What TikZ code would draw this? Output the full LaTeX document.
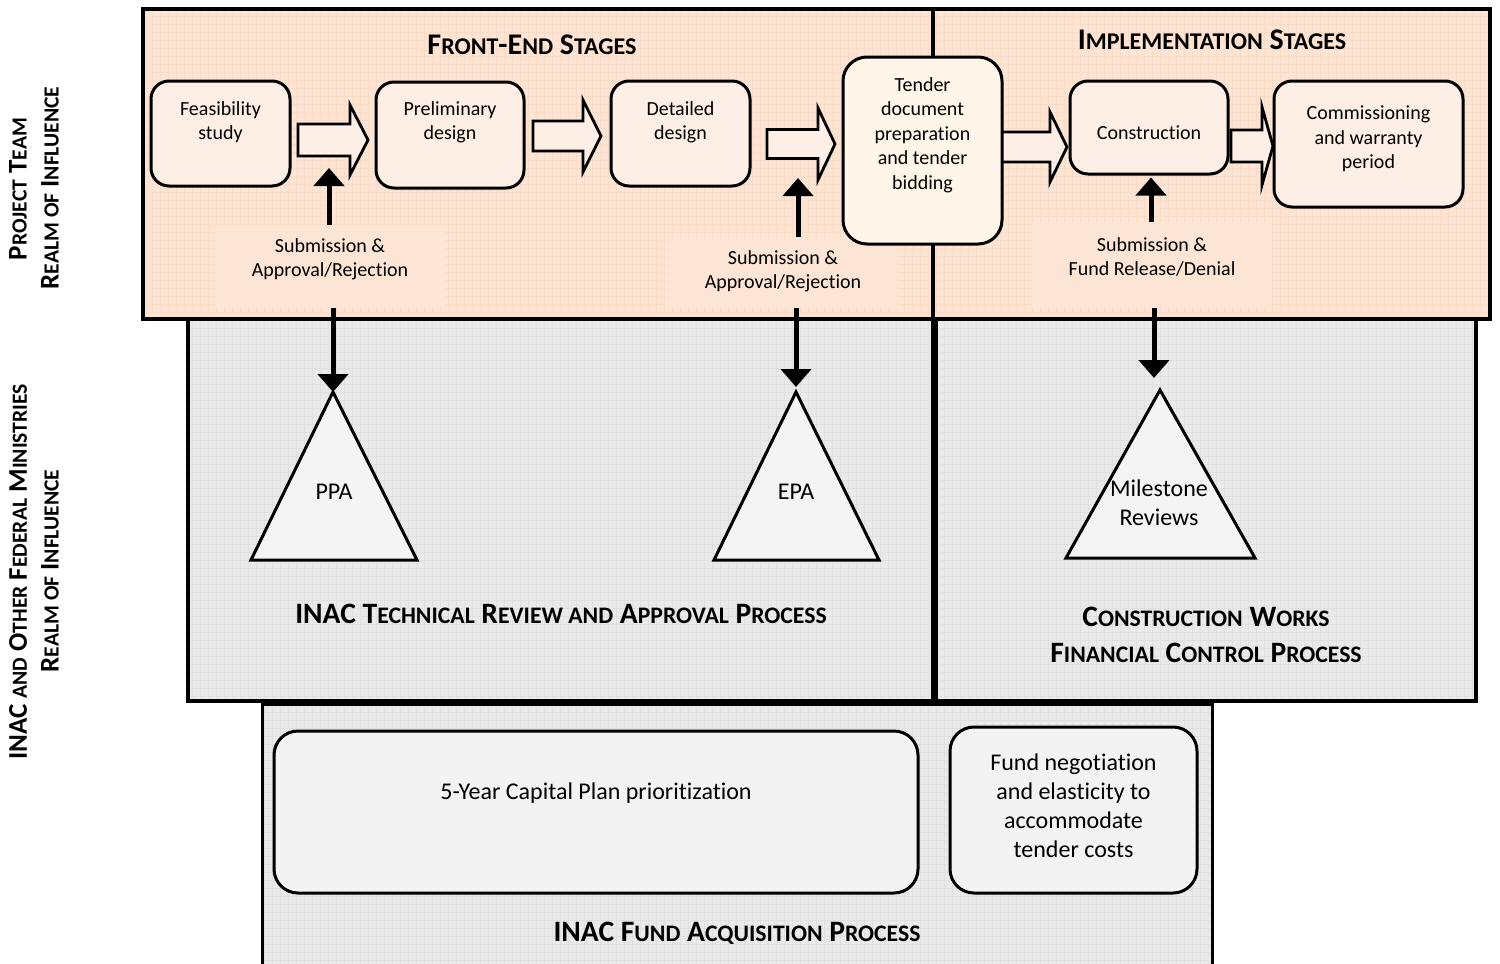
\documentclass[tikz,border=0pt]{standalone}
\usepackage{fontspec}
\setmainfont{Carlito}[Ligatures=NoCommon]
\usetikzlibrary{arrows.meta}

\definecolor{peachbg}{RGB}{252,229,213}
\definecolor{peachgrid}{RGB}{250,220,199}
\definecolor{peachnode}{RGB}{253,239,229}
\definecolor{tenderfill}{RGB}{255,245,232}
\definecolor{graybg}{RGB}{234,234,234}
\definecolor{graygrid}{RGB}{224,224,224}
\definecolor{trifill}{RGB}{244,244,244}
\definecolor{bottomnode}{RGB}{243,243,243}
\definecolor{arrowfill}{RGB}{253,239,229}

\newcommand\sm[1]{{\edef\smsz{\the\dimexpr 0.8\fontdimen6\font\relax}\fontsize{\smsz}{\smsz}\selectfont #1}}
\newcommand\barr[6]{%
  \draw[barrow] (#1,#4-#5) -- (#2,#4-#5) -- (#2,#4-#6) -- (#3,#4) -- (#2,#4+#6) -- (#2,#4+#5) -- (#1,#4+#5) -- cycle;}

\tikzset{
  region/.style={draw=black, line width=2pt},
  pgrid/.style={draw=peachgrid, line width=0.25pt, step=4pt},
  ggrid/.style={draw=graygrid, line width=0.25pt, step=4pt},
  stagebox/.style={draw, line width=1.5pt, rounded corners=9pt, fill=peachnode},
  stxt/.style={font=\fontsize{10}{12.2}\selectfont, align=center, inner sep=0pt},
  bigtxt/.style={font=\fontsize{12}{14.5}\selectfont, align=center, inner sep=0pt},
  title/.style={font=\fontsize{15}{18}\selectfont\bfseries, align=center, inner sep=0pt},
  sidetitle/.style={font=\fontsize{13.5}{18}\selectfont\bfseries, align=center, inner sep=0pt},
  btitle/.style={font=\fontsize{14.8}{18}\selectfont\bfseries, align=center, inner sep=0pt},
  lblbox/.style={fill=peachbg, inner sep=0pt},
  flow/.style={line width=2.5pt, -{Triangle[width=15pt,length=9pt]}},
  barrow/.style={draw, line width=1.4pt, fill=arrowfill, miter limit=10},
  tri/.style={draw, line width=1.5pt, fill=trifill, miter limit=10},
  botbox/.style={draw, line width=1.5pt, rounded corners=12pt, fill=bottomnode},
}

\begin{document}
\begin{tikzpicture}[x=0.5pt,y=-0.5pt]
\useasboundingbox (0,0) rectangle (1500,964);
\clip (0,0) rectangle (1500,964);

% ---------- bottom region ----------
\fill[graybg] (262,704) rectangle (1212,980);
\draw[ggrid] (262,704) grid (1212,980);
\draw[line width=1.5pt] (262,704) rectangle (1212,980);

% ---------- middle regions ----------
\fill[graybg] (188,319) rectangle (933,701);
\draw[ggrid] (188,319) grid (933,701);
\draw[region] (188,319) rectangle (933,701);
\fill[graybg] (936,319) rectangle (1476,701);
\draw[ggrid] (936,319) grid (1476,701);
\draw[region] (936,319) rectangle (1476,701);

% ---------- top regions ----------
\fill[peachbg] (143,9) rectangle (1490,319);
\draw[pgrid] (143,9) grid (1490,319);
\draw[region] (143,9) rectangle (933,319);
\draw[region] (933,9) rectangle (1490,319);

% ---------- left side labels ----------
\node[sidetitle, rotate=90] (pt1) at (18,189) {P\sm{ROJECT} T\sm{EAM}};
\node[sidetitle, rotate=90] (pt2) at (50,188) {R\sm{EALM OF} I\sm{NFLUENCE}};
\node[sidetitle, rotate=90] (in1) at (18,572) {INAC \sm{AND} O\sm{THER} F\sm{EDERAL} M\sm{INISTRIES}};
\node[sidetitle, rotate=90] (in2) at (50,571) {R\sm{EALM OF} I\sm{NFLUENCE}};

% ---------- titles ----------
\node[title] (fe) at (532,45) {F\sm{RONT}-E\sm{ND} S\sm{TAGES}};
\node[title] (im) at (1212,40) {I\sm{MPLEMENTATION} S\sm{TAGES}};

% ---------- submission labels ----------
\node[lblbox, minimum width=115pt, minimum height=41.5pt,
  label={[stxt,yshift=3.5pt]center:{Submission \&\\Approval/Rejection}}] (lbl1) at (330,266.5) {};
\node[lblbox, minimum width=115pt, minimum height=35.5pt,
  label={[stxt,yshift=0.5pt]center:{Submission \&\\Approval/Rejection}}] (lbl2) at (783,272.5) {};
\node[lblbox, minimum width=120pt, minimum height=43pt,
  label={[stxt,yshift=4pt]center:{Submission \&\\Fund Release/Denial}}] (lbl3) at (1152,265) {};

% ---------- block arrows ----------
\barr{298}{350}{368}{140}{16}{35}
\barr{533}{583}{601}{136}{15}{36}
\barr{767}{818}{835}{144}{14.5}{36}
\barr{995}{1050}{1067}{147}{15}{35}
\barr{1231}{1262}{1273}{146}{16}{39}
\coordinate (a1) at (329,168);
\coordinate (a3) at (798,178);

% ---------- stage nodes ----------
\node[stagebox, minimum width=69.5pt, minimum height=52.5pt,
  label={[stxt,yshift=5.75pt]center:{Feasibility\\study}}] (feas) at (220.5,133.5) {};
\node[stagebox, minimum width=74pt, minimum height=53pt,
  label={[stxt,yshift=6.25pt]center:{Preliminary\\design}}] (prel) at (450,135) {};
\node[stagebox, minimum width=69.5pt, minimum height=52.5pt,
  label={[stxt,yshift=5.75pt]center:{Detailed\\design}}] (det) at (680.5,133.5) {};
\node[stagebox, rounded corners=12pt, fill=tenderfill, minimum width=79.5pt, minimum height=93.5pt,
  label={[stxt,yshift=7.75pt]center:{Tender\\document\\preparation\\and tender\\bidding}}] (tender) at (922.5,150.5) {};
\node[stagebox, minimum width=79pt, minimum height=46.5pt,
  label={[stxt,yshift=-2.5pt]center:{Construction}}] (constr) at (1149,127.5) {};
\node[stagebox, minimum width=94.5pt, minimum height=63pt,
  label={[stxt,yshift=2.5pt]center:{Commissioning\\and warranty\\period}}] (comm) at (1368.5,144) {};

% ---------- triangles ----------
\coordinate (ppatop) at (333,392);
\coordinate (epatop) at (796,392);
\coordinate (mstop) at (1160,390);
\draw[tri] (251,560) -- (ppatop) -- (417,560) -- cycle;
\draw[tri] (714,560) -- (epatop) -- (879,560) -- cycle;
\draw[tri] (1066,558) -- (mstop) -- (1255,558) -- cycle;
\node[bigtxt] (ppa) at (334,492) {PPA};
\node[bigtxt] (epa) at (796,492) {EPA};
\node[bigtxt] (ms) at (1159,503) {Milestone\\Reviews};

% ---------- middle titles ----------
\node[btitle] (tr) at (561,614) {INAC T\sm{ECHNICAL} R\sm{EVIEW AND} A\sm{PPROVAL} P\sm{ROCESS}};
\node[btitle] (cw) at (1206,635) {C\sm{ONSTRUCTION} W\sm{ORKS}\\F\sm{INANCIAL} C\sm{ONTROL} P\sm{ROCESS}};

% ---------- connectors ----------
\draw[flow] (lbl1.north -| a1) -- (a1);
\draw[flow] (lbl2.north -| a3) -- (a3);
\draw[flow, shorten >=1pt] (lbl3.north -| 1151,0) -- (constr.south -| 1151,0);
\draw[flow] (lbl1.south -| ppatop) -- (ppatop);
\draw[flow, shorten >=2.5pt] (lbl2.south -| epatop) -- (epatop);
\draw[flow, shorten >=6pt] (lbl3.south -| 1154,0) -- (mstop -| 1154,0);

% ---------- bottom nodes ----------
\node[botbox, minimum width=322pt, minimum height=81pt,
  label={[bigtxt,yshift=9.5pt]center:{5-Year Capital Plan prioritization}}] (cap) at (596,812) {};
\node[botbox, minimum width=123.5pt, minimum height=83pt,
  label={[bigtxt,yshift=2.25pt]center:{Fund negotiation\\and elasticity to\\accommodate\\tender costs}}] (fund) at (1073.5,810) {};
\node[btitle] (fa) at (737,933) {INAC F\sm{UND} A\sm{CQUISITION} P\sm{ROCESS}};
\end{tikzpicture}
\end{document}
